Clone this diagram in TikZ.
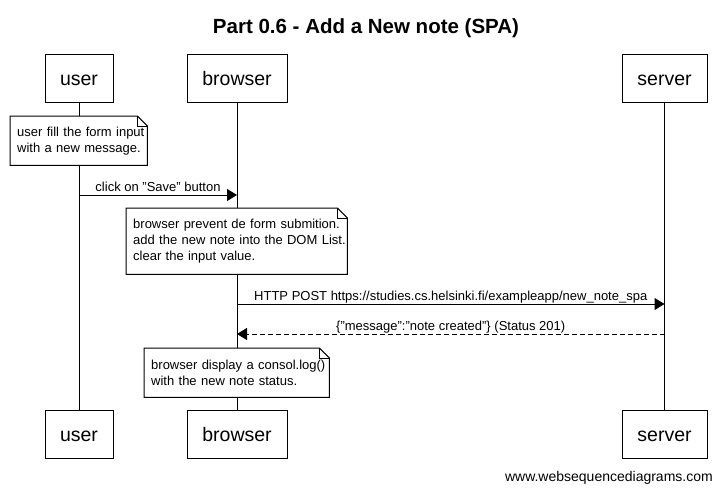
\documentclass[tikz,border=0pt]{standalone}
\usepackage{fontspec}
\setmainfont{Liberation Sans}
\usetikzlibrary{arrows.meta}
\tikzset{
  actor/.style={draw, line width=1pt, minimum height=48.5pt, inner sep=0pt,
    font=\fontsize{19.5}{22}\selectfont, text height=14pt, text depth=0pt},
  lifeline/.style={line width=1pt},
  note/.style={fill=white, anchor=north west, inner xsep=7pt, align=left,
    font=\fontsize{13}{16}\selectfont},
  noteline/.style={line width=1pt, line join=miter},
  msg/.style={line width=1pt, -{Triangle[length=10pt,width=12pt]}},
  reply/.style={msg, dash pattern=on 5pt off 3pt},
  msglabel/.style={pos=.5, anchor=base, yshift=3.5pt, inner sep=0pt,
    font=\fontsize{13}{16}\selectfont},
}
\begin{document}
\begin{tikzpicture}[x=1pt, y=-1pt]
\useasboundingbox (0,0) rectangle (722,493);
\newcommand{\dogear}[1]{%
  \draw[noteline] (#1.north west) -- ([xshift=-10pt]#1.north east)
    -- ([yshift=-10pt]#1.north east) -- (#1.south east) -- (#1.south west) -- cycle;
  \draw[noteline] ([xshift=-10pt]#1.north east) |- ([yshift=-10pt]#1.north east);}
% title
\node[anchor=base, font=\bfseries\fontsize{20.5}{24}\selectfont] (title) at (366,33) {Part 0.6 - Add a New note (SPA)};
% actors, top and bottom
\node[actor, minimum width=68pt] (user_top) at (79,78.5) {user};
\node[actor, minimum width=100pt] (browser_top) at (237,78.5) {browser};
\node[actor, minimum width=85pt] (server_top) at (664.5,78.5) {server};
\node[actor, minimum width=68pt] (user_bot) at (79,434.5) {user};
\node[actor, minimum width=100pt] (browser_bot) at (237,434.5) {browser};
\node[actor, minimum width=85pt] (server_bot) at (664.5,434.5) {server};
\draw[lifeline] (user_top) -- (user_bot);
\draw[lifeline] (browser_top) -- (browser_bot);
\draw[lifeline] (server_top) -- (server_bot);
% notes
\node[note, text width=123pt, minimum height=49pt] (n_fill) at (10,116)
  {\mbox{user fill the form input}\\\mbox{with a new message.}};
\dogear{n_fill}
\node[note, text width=207pt, minimum height=66pt] (n_prevent) at (126,208)
  {\mbox{browser prevent de form submition.}\\\mbox{add the new note into the DOM List.}\\\mbox{clear the input value.}};
\dogear{n_prevent}
\node[note, text width=171pt, minimum height=49pt] (n_log) at (144,348)
  {\mbox{browser display a consol.log()}\\\mbox{with the new note status.}};
\dogear{n_log}
% messages
\coordinate (m_save) at (0,195);
\coordinate (m_post) at (0,304);
\coordinate (m_created) at (0,334);
\draw[msg] (user_top |- m_save) -- (browser_top |- m_save) node[msglabel]{click on "Save" button};
\draw[msg] (browser_top |- m_post) -- (server_top |- m_post) node[msglabel]{HTTP POST https://studies.cs.helsinki.fi/exampleapp/new\_note\_spa};
\draw[reply] (server_top |- m_created) -- (browser_top |- m_created) node[msglabel]{\{"message":"note created"\} (Status 201)};
% credit
\node[anchor=base east, inner sep=0pt, font=\fontsize{14}{16}\selectfont] (credit) at (713,481) {www.websequencediagrams.com};
\end{tikzpicture}
\end{document}
